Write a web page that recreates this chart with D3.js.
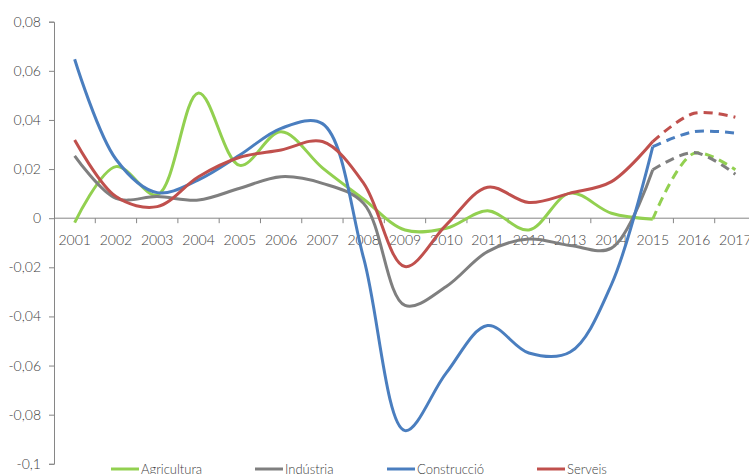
<!DOCTYPE html>
<html>
<head>
<meta charset="utf-8">
<script src="https://cdn.jsdelivr.net/npm/d3@7"></script>
<style>
  body { margin: 0; background: #fff; }
  text { font-family: Lato, "DejaVu Sans", sans-serif; font-weight: 300; fill: #404040; }
</style>
</head>
<body>
<svg id="chart" width="749" height="474"></svg>
<script>
// anys (eix x)
var years = ["2001","2002","2003","2004","2005","2006","2007","2008","2009","2010","2011","2012","2013","2014","2015","2016","2017"];
var yTicks = [0.08, 0.06, 0.04, 0.02, 0, -0.02, -0.04, -0.06, -0.08, -0.1];

// valors observats 2001-2015
var agricultura = [-0.0018, 0.021, 0.0095, 0.051, 0.0215, 0.0352, 0.0205, 0.0077, -0.0048, -0.0041, 0.003, -0.0048, 0.0102, 0.002, -0.0004];
var industria   = [0.0254, 0.0081, 0.0088, 0.0074, 0.0122, 0.0169, 0.0142, 0.006, -0.0355, -0.0278, -0.0136, -0.0085, -0.0111, -0.0122, 0.0197];
var construccio = [0.0647, 0.024, 0.0104, 0.0156, 0.0257, 0.0366, 0.0385, -0.0164, -0.0865, -0.063, -0.0437, -0.0549, -0.0545, -0.027, 0.0291];
var serveis     = [0.0318, 0.0088, 0.0047, 0.0169, 0.0248, 0.0278, 0.0312, 0.0142, -0.0197, -0.0027, 0.0126, 0.0064, 0.0102, 0.0149, 0.0312];

// previsions 2015-2017
var agriculturaPrev = [-0.0004, 0.0264, 0.0197];
var industriaPrev   = [0.0197, 0.0267, 0.0179];
var construccioPrev = [0.0291, 0.0352, 0.0346];
var serveisPrev     = [0.0312, 0.0427, 0.0411];

var names = ["Agricultura", "Indústria", "Construcció", "Serveis"];
var colors = ["#92d050", "#7f7f7f", "#4a7ebf", "#c0504d"];

var svg = d3.select("#chart");

var x = d3.scaleBand()
    .domain(years)
    .range([54, 756]);

var y = d3.scaleLinear()
    .domain([-0.1, 0.08])
    .range([463.8, 21.7]);

// format amb coma decimal i guió normal
var fmt = function(d) {
  return d3.format(".2~f")(Math.abs(d)).replace(".", ",").replace(/^/, d < 0 ? "-" : "");
};

// eix y
var yAxis = svg.append("g")
    .attr("transform", "translate(54,0)")
    .call(d3.axisLeft(y).tickValues(yTicks).tickSize(5).tickPadding(8).tickFormat(fmt));
yAxis.select(".domain").attr("stroke", "#868686");
yAxis.selectAll(".tick line").attr("stroke", "#868686");
yAxis.selectAll(".tick text").style("font-size", "14px").attr("fill", "#404040");

// eix x a l'altura del zero, marques entre categories
var xg = svg.append("g");
xg.append("line")
    .attr("x1", 54).attr("x2", 756)
    .attr("y1", y(0)).attr("y2", y(0))
    .attr("stroke", "#868686");
xg.selectAll("line.tk")
    .data(years.slice(1))
  .enter().append("line")
    .attr("class", "tk")
    .attr("x1", function(d) { return x(d); })
    .attr("x2", function(d) { return x(d); })
    .attr("y1", y(0)).attr("y2", y(0) + 5)
    .attr("stroke", "#868686");
xg.selectAll("text")
    .data(years)
  .enter().append("text")
    .attr("x", function(d) { return x(d) + x.bandwidth() / 2; })
    .attr("y", y(0) + 27)
    .attr("text-anchor", "middle")
    .style("font-size", "14px")
    .text(function(d) { return d; });

var line = d3.line()
    .x(function(d) { return d.x; })
    .y(function(d) { return y(d.v); })
    .curve(d3.curveCatmullRom.alpha(0.5));

function pts(vals, offset) {
  return vals.map(function(v, i) {
    return { x: x(years[i + offset]) + x.bandwidth() / 2, v: v };
  });
}

var observed = [agricultura, industria, construccio, serveis];
var forecast = [agriculturaPrev, industriaPrev, construccioPrev, serveisPrev];

// previsions primer (discontinues), després les observades
forecast.forEach(function(s, i) {
  svg.append("path")
    .attr("d", line(pts(s, 14)))
    .attr("fill", "none")
    .attr("stroke", colors[i])
    .attr("stroke-width", 3)
    .attr("stroke-dasharray", "9,6");
});

observed.forEach(function(s, i) {
  svg.append("path")
    .attr("d", line(pts(s, 0)))
    .attr("fill", "none")
    .attr("stroke", colors[i])
    .attr("stroke-width", 3)
    .attr("stroke-linejoin", "round");
});

// llegenda
var legX = [111, 255, 387, 537];
var leg = svg.selectAll("g.leg")
    .data(names)
  .enter().append("g")
    .attr("class", "leg")
    .attr("transform", function(d, i) { return "translate(" + legX[i] + ",469)"; });
leg.append("line")
    .attr("x1", 0).attr("x2", 28)
    .attr("stroke", function(d, i) { return colors[i]; })
    .attr("stroke-width", 3);
leg.append("text")
    .attr("x", 30)
    .attr("y", 5)
    .style("font-size", "13px")
    .text(function(d) { return d; });
</script>
</body>
</html>
